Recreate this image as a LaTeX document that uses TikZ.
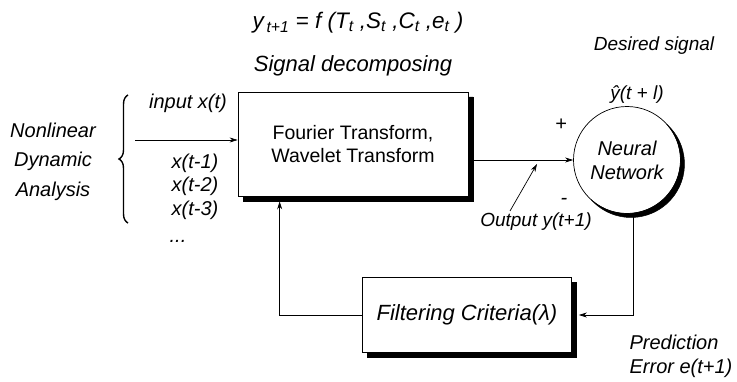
\documentclass[tikz,border=0pt]{standalone}
\usepackage{fontspec}
\setmainfont{Liberation Sans}
\usetikzlibrary{arrows.meta,decorations.pathreplacing,calc}
\newcommand{\fs}[2]{\fontsize{#1}{#2}\selectfont}
\begin{document}
\begin{tikzpicture}[x=1pt,y=1pt,
  lbl/.style={inner sep=0pt,font=\fs{20}{25}\itshape},
  blockbox/.style={draw,line width=0.7pt,fill=white,inner sep=0pt,align=center},
  neuron/.style={circle,draw,line width=0.7pt,fill=white,inner sep=0pt,align=center,
    minimum size=107pt,font=\fs{20}{24}\itshape},
  shadowpart/.style={draw=black,fill=black,line width=0.5pt},
  link/.style={line width=0.7pt,-{Stealth[length=8pt,width=5pt]}}]
\useasboundingbox (0,0) rectangle (737,381);

% headings
\node[lbl,font=\fs{22.5}{26}\itshape] (eq) at (358,358)
  {y\textsubscript{\,t+1} = f (T\textsubscript{t} ,S\textsubscript{t} ,C\textsubscript{t} ,e\textsubscript{t} )};
\node[lbl,font=\fs{22}{26}\itshape] (sd) at (353,315) {Signal decomposing};
\node[lbl,font=\fs{19}{23}\itshape] (ds) at (654,335) {Desired signal};
\node[lbl,font=\fs{19}{23}\itshape] (yh) at (637,286) {ŷ(t + l)};

% blocks
\node[blockbox,minimum width=230pt,minimum height=104pt,font=\fs{19.5}{23}] (fw) at (353,237)
  {Fourier Transform,\\Wavelet Transform};
\node[neuron] (nn) at (627,221) {Neural\\Network};
\node[blockbox,minimum width=209pt,minimum height=75pt,font=\fs{22}{25}\itshape]
  (flt) at (467,66) {Filtering Criteria(λ)};

% solid shadows on the lower and right sides
\path[shadowpart] (243,185) -- (468,185) -- (468,284) -- (473,284) -- (473,180) -- (243,180) -- cycle;
\path[shadowpart] (367.5,28.5) -- (571.5,28.5) -- (571.5,98.5) -- (576.5,98.5) -- (576.5,23.5)
  -- (367.5,23.5) -- cycle;
\path[shadowpart] (666.78,256.78) arc[start angle=48,end angle=-138,radius=53.5]
  arc[start angle=-132,end angle=42,radius=53.5] -- cycle;

% left-hand inputs
\node[lbl] (nl) at (53,251) {Nonlinear};
\node[lbl] (dy) at (53,220) {Dynamic};
\node[lbl] (an) at (53,190) {Analysis};
\node[lbl] (xt)  at (188,278) {input x(t)};
\node[lbl] (xt1) at (195,218) {x(t-1)};
\node[lbl] (xt2) at (195,195) {x(t-2)};
\node[lbl] (xt3) at (195,171) {x(t-3)};
\node[lbl] (xdots) at (178,140) {...};
\coordinate (bb) at (128,158);
\coordinate (bt) at (128,286);
\draw[line width=1.4pt,decorate,decoration={brace,amplitude=9pt}] (bb) -- (bt);
\coordinate (in) at (135,241);
\draw[link] (in) -- (in -| fw.west);

% signal path to the network
\draw[link] (nn.west -| fw.east) -- (nn.west);
\node[lbl] (pl) at (561,256) {+};
\node[lbl] (mi) at (564,180) {-};
\node[lbl,font=\fs{19}{23}\itshape] (out) at (536,159) {Output y(t+1)};
\coordinate (os) at (510,170);
\coordinate (ot) at (537,217);
\draw[link] (os) -- (ot);

% error feedback loop
\draw[link] ([xshift=6pt]nn.south) |- ([xshift=7pt]flt.east);
\draw[link] (flt.west) -| ([xshift=42pt,yshift=-5pt]fw.south west);
\node[lbl] (pe) at (674,39) {Prediction};
\node[lbl] (ee) at (681,13) {Error e(t+1)};
\end{tikzpicture}
\end{document}
